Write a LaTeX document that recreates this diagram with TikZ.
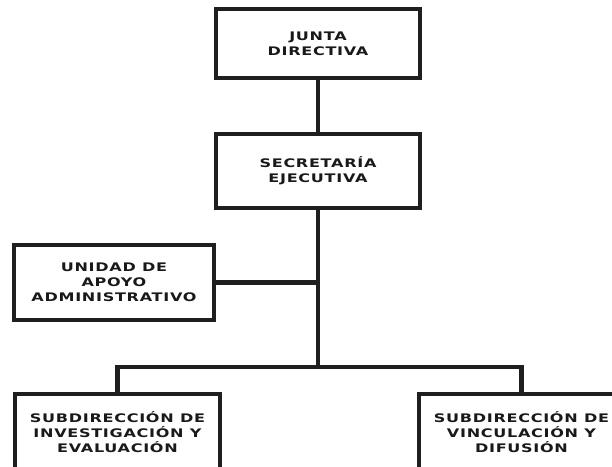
\documentclass[tikz,border=0pt]{standalone}
\usepackage{fontspec}
\setmainfont{DejaVu Sans}[UprightFont=* Bold, FakeStretch=1.36, LetterSpace=6]
\begin{document}
\begin{tikzpicture}[x=1pt,y=1pt,
  box/.style={draw=black!88, line width=4pt, fill=white, rectangle, inner sep=0pt,
    align=center, font=\fontsize{11.8}{14.8}\selectfont, text=black!90},
  conn/.style={draw=black!88, line width=4.5pt}]
\useasboundingbox (0,0) rectangle (612,466);
\clip (0,0) rectangle (612,466);
\node[box, minimum width=204pt, minimum height=69pt] (junta) at (318,422.5) {JUNTA\\DIRECTIVA};
\node[box, minimum width=204pt, minimum height=74pt] (secre) at (318,295) {SECRETARÍA\\EJECUTIVA};
\node[box, minimum width=200pt, minimum height=75pt] (unidad) at (114,183.5) {UNIDAD DE\\APOYO\\ADMINISTRATIVO};
\node[box, minimum width=205pt, minimum height=76pt] (subinv) at (117.5,34) {SUBDIRECCIÓN DE\\INVESTIGACIÓN Y\\EVALUACIÓN};
\node[box, minimum width=205pt, minimum height=76pt] (subvin) at (521.5,34) {SUBDIRECCIÓN DE\\VINCULACIÓN Y\\DIFUSIÓN};
\coordinate (bus) at (318,99);
\draw[conn] (junta.south) -- (secre.north);
\draw[conn] (secre.south) -- (bus);
\draw[conn] (unidad.east) -- (unidad.east -| bus);
\draw[conn] (subinv.north) |- (bus);
\draw[conn] (subvin.north) |- (bus);
\end{tikzpicture}
\end{document}
